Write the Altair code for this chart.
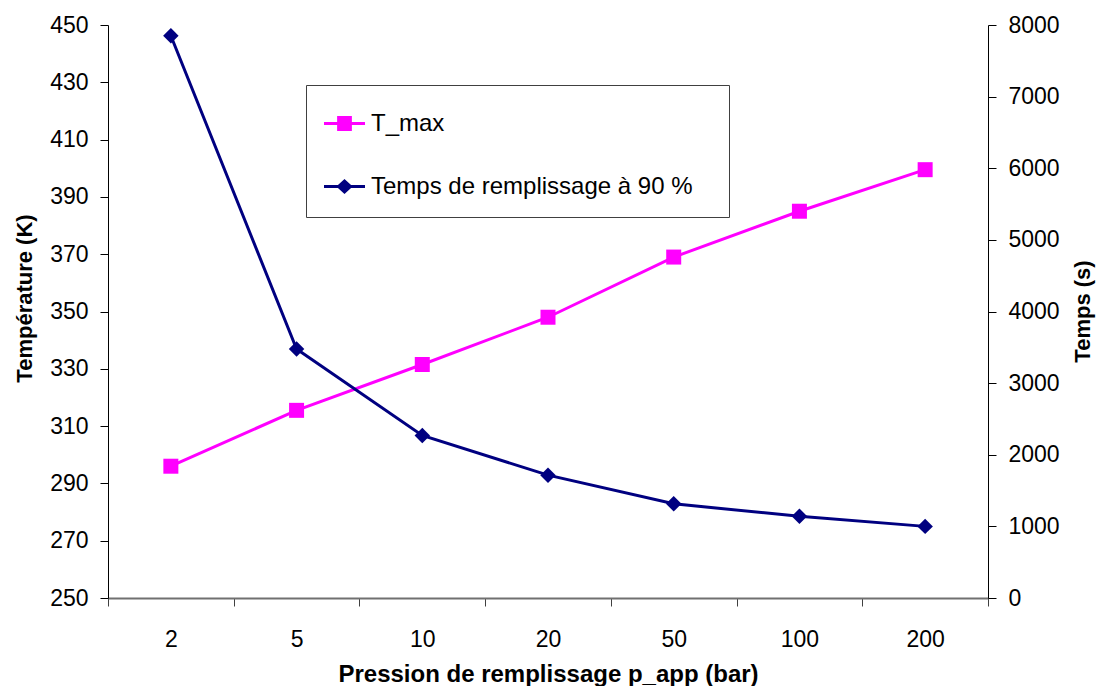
import altair as alt
import pandas as pd

# ---- data ----
pressures = ["2", "5", "10", "20", "50", "100", "200"]
t_max = [296, 315.5, 331.5, 348, 369, 385, 399.5]
temps = [7850, 3475, 2270, 1715, 1315, 1140, 1000]
series_names = ["T_max", "Temps de remplissage à 90 %"]
series_colors = ["#FF00FF", "#000080"]
left_ticks = list(range(250, 451, 20))
right_ticks = list(range(0, 8001, 1000))

df = pd.DataFrame({"p": pressures, "T_max": t_max, "temps": temps})
legend_df = pd.DataFrame({"series": series_names})

FONT = "Liberation Sans"
# legend symbols: line segment + marker
SQUARE_SYM = "M-1,-0.075L1,-0.075L1,0.075L-1,0.075Z M-0.36,-0.36L0.36,-0.36L0.36,0.36L-0.36,0.36Z"
DIAMOND_SYM = "M-1,-0.075L1,-0.075L1,0.075L-1,0.075Z M-0.4,0L0,-0.36L0.4,0L0,0.36Z"

x_enc = alt.X(
    "p:O", sort=pressures, bandPosition=0.5,
    scale=alt.Scale(type="band", paddingInner=0, paddingOuter=0),
    axis=alt.Axis(
        title="Pression de remplissage p_app (bar)", tickBand="extent",
        tickSize=8, labelPadding=22, labelAngle=0, labelFontSize=23, labelFont=FONT,
        labelColor="black", domainColor="#707070", domainWidth=2,
        tickColor="#404040", tickWidth=1, grid=False,
        titleFont=FONT, titleFontSize=24, titleFontWeight="bold", titleColor="black",
        titleX=440, titleY=83, titleBaseline="alphabetic", titleAlign="center",
    ),
)

y_left = alt.Y(
    "T_max:Q", scale=alt.Scale(domain=[250, 450], nice=False, zero=False),
    axis=alt.Axis(
        orient="left", title="Température (K)", values=left_ticks, format="d",
        tickSize=8, labelPadding=12, labelFontSize=23, labelFont=FONT, labelColor="black",
        domainColor="black", domainWidth=1, tickColor="black", grid=False,
        titleFont=FONT, titleFontSize=22, titleFontWeight="bold", titleColor="black",
        titleX=-77, titleY=273, titleAngle=270, titleBaseline="alphabetic", titleAlign="center",
    ),
)

y_right = alt.Y(
    "temps:Q", scale=alt.Scale(domain=[0, 8000], nice=False, zero=True),
    axis=alt.Axis(
        orient="right", title="Temps (s)", values=right_ticks, format="d",
        tickSize=8, labelPadding=12, labelFontSize=23, labelFont=FONT, labelColor="black",
        domainColor="black", domainWidth=1, tickColor="black", grid=False,
        titleFont=FONT, titleFontSize=22, titleFontWeight="bold", titleColor="black",
        titleX=101, titleY=286, titleAngle=270, titleBaseline="alphabetic", titleAlign="center",
    ),
)

base = alt.Chart(df)
left = alt.layer(
    base.mark_line(color=series_colors[0], strokeWidth=3).encode(x=x_enc, y=y_left),
    base.mark_point(shape="square", filled=True, size=225, opacity=1,
                    color=series_colors[0]).encode(x=x_enc, y="T_max:Q"),
)
right = alt.layer(
    base.mark_line(color=series_colors[1], strokeWidth=3).encode(x=x_enc, y=y_right),
    base.mark_point(shape="diamond", filled=True, size=240, opacity=1,
                    color=series_colors[1]).encode(x=x_enc, y="temps:Q"),
)

leg = alt.Legend(
    orient="none", legendX=198, legendY=60, direction="vertical", title=None,
    fillColor="white", strokeColor="#404040", padding=18,
    labelFont=FONT, labelFontSize=24, labelColor="black", labelLimit=600, labelOffset=6,
    labelExpr="datum.label + '\u2800'",
    symbolSize=1681, symbolOpacity=1, symbolStrokeWidth=0, rowPadding=30,
)

legend_layer = alt.Chart(legend_df).mark_point(filled=True, opacity=0, size=10).encode(
    color=alt.Color("series:N", sort=series_names,
                    scale=alt.Scale(domain=series_names, range=series_colors), legend=leg),
    shape=alt.Shape("series:N", sort=series_names,
                    scale=alt.Scale(domain=series_names, range=[SQUARE_SYM, DIAMOND_SYM]), legend=leg),
)

chart = (
    alt.layer(left, right, legend_layer)
    .resolve_scale(y="independent")
    .properties(
        width=880, height=573,
        autosize=alt.AutoSizeParams(type="none"),
        padding={"left": 100, "top": 17, "right": 108, "bottom": 88},
        background="white",
    )
    .configure_view(stroke=None)
)

chart.save("out.html", embed_options={"renderer": "svg", "actions": False})
